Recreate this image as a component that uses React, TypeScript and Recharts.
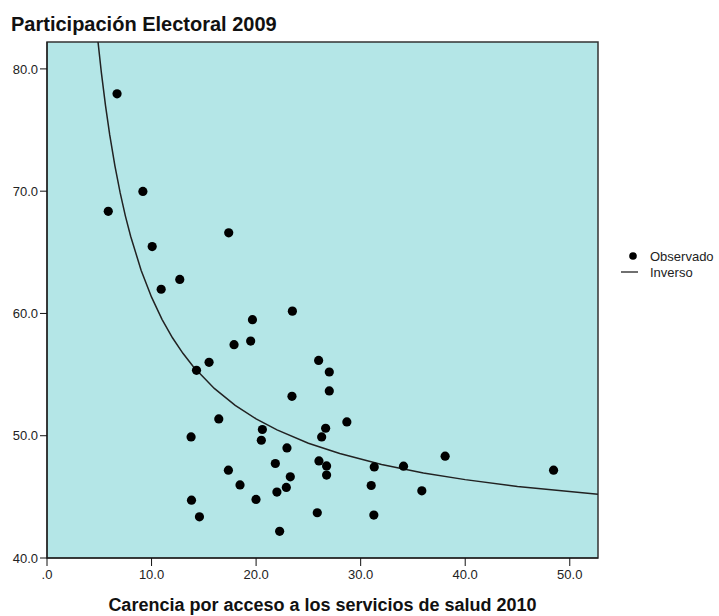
import React from "react";
import {
  ScatterChart,
  Scatter,
  XAxis,
  YAxis,
  ReferenceArea,
  Legend,
  Label,
} from "recharts";

// observed points (carencia salud 2010, participación 2009)
const obsX = [
  6.7, 5.86, 9.17, 10.06, 12.7, 10.92, 17.38, 19.65, 23.47, 17.89, 19.48, 15.5,
  14.3, 25.98, 27.0, 27.0, 23.43, 16.43, 13.78, 20.6, 20.5, 28.68, 26.65, 26.27,
  22.95, 21.84, 26.01, 26.74, 26.74, 31.3, 17.35, 23.27, 22.89, 21.99, 18.46,
  19.99, 31.01, 13.82, 14.58, 25.85, 31.26, 22.25, 34.1, 35.85, 38.08, 48.45,
];
const obsY = [
  77.96, 68.35, 69.98, 65.47, 62.78, 61.98, 66.59, 59.49, 60.19, 57.45, 57.74,
  56.0, 55.35, 56.16, 55.21, 53.66, 53.22, 51.37, 49.9, 50.51, 49.63, 51.13,
  50.61, 49.9, 49.0, 47.73, 47.94, 47.53, 46.78, 47.45, 47.18, 46.64, 45.77,
  45.39, 45.98, 44.79, 45.93, 44.73, 43.37, 43.7, 43.51, 42.18, 47.51, 45.49,
  48.33, 47.18,
];

// fitted "Inverso" curve
const fitX = [
  4.88, 5.2, 5.6, 6, 6.5, 7, 7.5, 8, 9, 10, 11, 12, 13, 14, 16, 18, 20, 22, 25,
  28, 32, 36, 40, 45, 52.7,
];
const fitY = [
  82.21, 79.7, 76.97, 74.6, 72.05, 69.86, 67.96, 66.31, 63.54, 61.33, 59.52,
  58.01, 56.74, 55.64, 53.87, 52.49, 51.38, 50.48, 49.39, 48.54, 47.65, 46.96,
  46.41, 45.85, 45.21,
];

const xTicks = [0, 10, 20, 30, 40, 50];
const yTicks = [40, 50, 60, 70, 80];

const observed = obsX.map((x, i) => ({ x, y: obsY[i] }));
const fitted = fitX.map((x, i) => ({ x, y: fitY[i] }));

const FONT = "'Liberation Sans', Arial, sans-serif";

const LegendBox = () => (
  <svg width={100} height={40}>
    <circle cx={18} cy={10} r={3.8} fill="#000" />
    <text x={35} y={10} dy="0.35em" fontSize={13} fill="#222" fontFamily={FONT}>
      Observado
    </text>
    <line x1={6} x2={23} y1={26} y2={26} stroke="#222" strokeWidth={1.3} />
    <text x={35} y={26} dy="0.35em" fontSize={13} fill="#222" fontFamily={FONT}>
      Inverso
    </text>
  </svg>
);

export default function App() {
  return (
    <div
      style={{
        position: "absolute",
        left: 0,
        top: 0,
        width: 719,
        height: 616,
        background: "#fff",
        fontFamily: FONT,
      }}
    >
      <div
        style={{
          position: "absolute",
          left: 11,
          top: 14,
          fontSize: 20,
          lineHeight: "20px",
          fontWeight: "bold",
          color: "#111",
          whiteSpace: "nowrap",
        }}
      >
        Participación Electoral 2009
      </div>
      <ScatterChart
        width={719}
        height={616}
        margin={{ top: 42, right: 121, bottom: 0, left: 0 }}
      >
        <ReferenceArea
          x1={0}
          x2={52.7}
          y1={40}
          y2={82.2}
          fill="#b4e6e7"
          fillOpacity={1}
          stroke="#333"
          strokeWidth={1.5}
        />
        <XAxis
          type="number"
          dataKey="x"
          domain={[0, 52.7]}
          ticks={xTicks}
          allowDataOverflow
          height={58}
          tickSize={8}
          tickMargin={4}
          tickFormatter={(v: number) => (v === 0 ? ".0" : v.toFixed(1))}
          stroke="#111"
          tick={{ fill: "#222", fontSize: 13, fontFamily: FONT }}
        >
          <Label
            value="Carencia por acceso a los servicios de salud 2010"
            position="insideBottom"
            offset={5}
            style={{ fontSize: 18, fontWeight: "bold", fill: "#111", fontFamily: FONT }}
          />
        </XAxis>
        <YAxis
          type="number"
          dataKey="y"
          domain={[40, 82.2]}
          ticks={yTicks}
          allowDataOverflow
          width={47}
          tickSize={7}
          tickMargin={2}
          tickFormatter={(v: number) => v.toFixed(1)}
          stroke="#111"
          tick={{ fill: "#222", fontSize: 13, fontFamily: FONT }}
        />
        <Scatter
          name="Inverso"
          data={fitted}
          line={{ stroke: "#222", strokeWidth: 1.5 }}
          lineType="joint"
          shape={() => <g />}
          isAnimationActive={false}
        />
        <Scatter
          name="Observado"
          data={observed}
          fill="#000"
          shape={(p: any) => <circle cx={p.cx} cy={p.cy} r={4.6} fill="#000" />}
          isAnimationActive={false}
        />
        <Legend
          layout="horizontal"
          align="center"
          verticalAlign="middle"
          content={() => <LegendBox />}
          wrapperStyle={{ left: 615, top: 246, width: 100, height: 40 }}
        />
      </ScatterChart>
    </div>
  );
}
